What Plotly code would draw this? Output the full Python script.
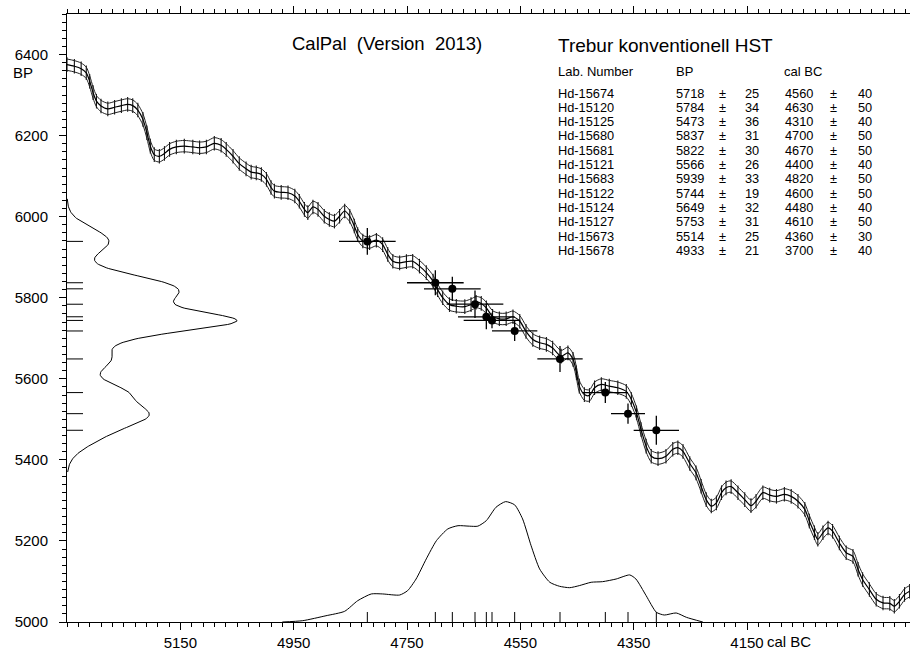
import numpy as np
import plotly.graph_objects as go

# ---------------- data ----------------
lab_ids = ["Hd-15674", "Hd-15120", "Hd-15125", "Hd-15680", "Hd-15681", "Hd-15121",
           "Hd-15683", "Hd-15122", "Hd-15124", "Hd-15127", "Hd-15673", "Hd-15678"]
bp_vals = [5718, 5784, 5473, 5837, 5822, 5566, 5939, 5744, 5649, 5753, 5514, 4933]
bp_sd = [25, 34, 36, 31, 30, 26, 33, 19, 32, 31, 25, 21]
cal_vals = [4560, 4630, 4310, 4700, 4670, 4400, 4820, 4600, 4480, 4610, 4360, 3700]
cal_sd = [40, 50, 40, 50, 50, 40, 50, 50, 40, 50, 30, 40]

# calibration curve
curve_cal = [5350, 5337, 5325, 5316, 5310, 5304, 5298, 5290, 5278, 5266, 5254, 5243, 5234, 5225,
             5216, 5209, 5203, 5196, 5187, 5178, 5169, 5157, 5143, 5128, 5116, 5104, 5090, 5078,
             5069, 5057, 5046, 5034, 5025, 5016, 5007, 4998, 4990, 4984, 4972, 4960, 4948, 4940,
             4931, 4925, 4916, 4907, 4896, 4887, 4878, 4869, 4860, 4851, 4843, 4837, 4828, 4816,
             4804, 4793, 4784, 4775, 4763, 4751, 4740, 4728, 4716, 4704, 4696, 4687, 4675, 4663,
             4648, 4637, 4628, 4619, 4610, 4599, 4587, 4575, 4563, 4551, 4540, 4528, 4516, 4504,
             4493, 4478, 4466, 4457, 4451, 4446, 4437, 4428, 4419, 4407, 4393, 4378, 4363, 4354,
             4345, 4337, 4328, 4319, 4307, 4293, 4281, 4272, 4263, 4251, 4240, 4231, 4222, 4213,
             4204, 4195, 4187, 4178, 4166, 4154, 4143, 4134, 4122, 4110, 4098, 4084, 4072, 4060,
             4048, 4040, 4031, 4025, 4016, 4007, 3999, 3987, 3975, 3963, 3954, 3946, 3934, 3922,
             3910, 3898, 3890, 3881, 3872, 3863]
curve_bp = [6375, 6371, 6365, 6355, 6334, 6306, 6285, 6273, 6266, 6270, 6274, 6277, 6274, 6263,
            6240, 6207, 6174, 6153, 6149, 6156, 6166, 6172, 6174, 6172, 6170, 6172, 6181, 6176,
            6166, 6149, 6131, 6118, 6110, 6108, 6104, 6092, 6072, 6063, 6060, 6059, 6051, 6038,
            6018, 6010, 6024, 6018, 6001, 5993, 5989, 6001, 6014, 6001, 5977, 5956, 5940, 5936,
            5942, 5931, 5907, 5890, 5886, 5889, 5890, 5878, 5862, 5841, 5820, 5800, 5783, 5779,
            5778, 5783, 5789, 5786, 5775, 5754, 5748, 5748, 5753, 5742, 5717, 5697, 5689, 5685,
            5676, 5656, 5664, 5648, 5615, 5582, 5561, 5559, 5578, 5586, 5582, 5578, 5569, 5549,
            5516, 5475, 5434, 5409, 5403, 5409, 5426, 5430, 5421, 5391, 5368, 5335, 5302, 5286,
            5294, 5319, 5331, 5334, 5319, 5302, 5287, 5298, 5319, 5313, 5310, 5315, 5310, 5298,
            5278, 5249, 5220, 5204, 5220, 5232, 5224, 5195, 5171, 5162, 5130, 5105, 5080, 5056,
            5047, 5046, 5039, 5051, 5068, 5076]
curve_sigma = 14
curve_bar = 18

# summed calibrated probability (relative)
cal_density_x = [4970, 4934, 4893, 4860, 4837, 4813, 4793, 4763, 4749, 4734, 4716, 4698, 4678,
                 4660, 4640, 4625, 4610, 4593, 4576, 4560, 4546, 4531, 4516, 4498, 4481, 4463,
                 4446, 4425, 4405, 4381, 4357, 4346, 4328, 4310, 4296, 4275, 4257, 4228]
cal_density_rel = [0.0, 0.011, 0.052, 0.089, 0.177, 0.233, 0.233, 0.224, 0.260, 0.357, 0.524,
                   0.676, 0.773, 0.800, 0.796, 0.796, 0.842, 0.953, 1.0, 0.973, 0.856, 0.634,
                   0.441, 0.330, 0.297, 0.285, 0.302, 0.330, 0.335, 0.357, 0.391, 0.357, 0.219,
                   0.081, 0.058, 0.075, 0.039, 0.0]

x_tick_vals = [5150, 4950, 4750, 4550, 4350, 4150]
y_tick_vals = [5000, 5200, 5400, 5600, 5800, 6000, 6200, 6400]

# ---------------- layout geometry ----------------
W, H = 910, 655
ML, MR, MT, MB = 67, 0, 14, 33
PW, PH = W - ML - MR, H - MT - MB
X0 = 5350
XSCALE = 850 / 1500.0           # px per year
X1 = X0 - PW / XSCALE
FONT = "Liberation Sans, Arial, sans-serif"
DENS_AMP = 300                  # density amplitude in axis units


def px(xp):
    return (xp - ML) / PW


def py(yp):
    return (MT + PH - yp) / PH


fig = go.Figure()

# BP summed probability (sum of normal distributions of the measurements)
bp_grid = np.arange(5370, 6046, 2)
dens = np.zeros_like(bp_grid, dtype=float)
for m, s in zip(bp_vals, bp_sd):
    dens += np.exp(-0.5 * ((bp_grid - m) / s) ** 2) / s
dens = dens / dens.max()
fig.add_trace(go.Scatter(x=X0 - DENS_AMP * dens, y=bp_grid, mode="lines",
                         line=dict(color="black", width=1), hoverinfo="skip"))

# calibrated summed probability along the bottom
fig.add_trace(go.Scatter(x=cal_density_x, y=[5000 + 297 * v for v in cal_density_rel],
                         mode="lines", line=dict(color="black", width=1, shape="spline", smoothing=0.6),
                         hoverinfo="skip"))

# calibration curve: hatch bars, envelope and centre line
fig.add_trace(go.Scatter(x=curve_cal, y=curve_bp, mode="markers",
                         marker=dict(size=1, color="rgba(0,0,0,0)"),
                         error_y=dict(type="constant", value=curve_bar, width=0,
                                      thickness=1.1, color="#111"),
                         hoverinfo="skip"))
for sgn in (1, -1):
    fig.add_trace(go.Scatter(x=curve_cal, y=[b + sgn * curve_sigma for b in curve_bp], mode="lines",
                             line=dict(color="#222", width=1, shape="spline", smoothing=0.8),
                             hoverinfo="skip"))
fig.add_trace(go.Scatter(x=curve_cal, y=curve_bp, mode="lines",
                         line=dict(color="black", width=1.2, shape="spline", smoothing=0.8),
                         hoverinfo="skip"))

# dated samples
fig.add_trace(go.Scatter(x=cal_vals, y=bp_vals, mode="markers",
                         marker=dict(size=8, color="black"),
                         error_x=dict(type="data", array=cal_sd, width=0, thickness=1.3, color="black"),
                         error_y=dict(type="data", array=bp_sd, width=0, thickness=1.3, color="black"),
                         hoverinfo="skip"))

shapes = []
# sample marks on BP axis
for b in bp_vals:
    if b >= 5000:
        shapes.append(dict(type="line", xref="x domain", yref="y", x0=0, x1=16 / PW, y0=b, y1=b,
                           line=dict(color="black", width=1)))
# sample marks on cal axis
for c in cal_vals:
    if c <= X0 and c >= X1:
        shapes.append(dict(type="line", xref="x", yref="y domain", x0=c, x1=c, y0=0, y1=10 / PH,
                           line=dict(color="black", width=1)))

ann = []


def text(x, y, t, size, anchor="left"):
    ann.append(dict(x=px(x), y=py(y), xref="paper", yref="paper", text=t, showarrow=False,
                    xanchor=anchor, yanchor="middle", borderpad=0,
                    font=dict(size=size, color="black", family=FONT)))


text(291, 44, "CalPal  (Version  2013)", 18.5)
text(557, 45, "Trebur konventionell HST", 19)
text(557, 71, "Lab. Number", 13)
text(675, 71, "BP", 13)
text(783, 71, "cal BC", 13)
ROW = 12.8
for i, lab in enumerate(lab_ids):
    yy = 93 + 14.3 * i
    text(557, yy, lab, ROW)
    text(675, yy, str(bp_vals[i]), ROW)
    text(722, yy, "±", ROW, "center")
    text(744, yy, str(bp_sd[i]), ROW)
    text(784, yy, str(cal_vals[i]), ROW)
    text(833, yy, "±", ROW, "center")
    text(857, yy, str(cal_sd[i]), ROW)
text(12, 73, "BP", 15)
ann.append(dict(x=4150, y=py(641), xref="x", yref="paper", text="cal BC", showarrow=False,
                xanchor="left", yanchor="middle", xshift=19, borderpad=0,
                font=dict(size=15, color="black", family=FONT)))

axis_common = dict(showgrid=False, zeroline=False, showline=True, linecolor="black", linewidth=1,
                   ticks="outside", ticklen=7, tickwidth=1, tickcolor="black",
                   tickfont=dict(size=15, color="black", family=FONT))

fig.update_layout(
    width=W, height=H, margin=dict(l=ML, r=MR, t=MT, b=MB),
    paper_bgcolor="white", plot_bgcolor="white", showlegend=False,
    shapes=shapes, annotations=ann,
    xaxis=dict(range=[X0, X1], tickmode="array", tickvals=x_tick_vals,
               ticktext=[str(v) for v in x_tick_vals], mirror="ticks",
               minor=dict(tick0=X0, dtick=20, ticklen=4, ticks="outside", tickcolor="black",
                          showgrid=False),
               **axis_common),
    yaxis=dict(range=[5000, 6500], tickmode="array", tickvals=y_tick_vals,
               ticktext=[str(v) for v in y_tick_vals], ticklabelstandoff=8,
               minor=dict(tick0=5000, dtick=20, ticklen=4, ticks="outside", tickcolor="black",
                          showgrid=False),
               **axis_common),
)

fig.write_html("out.html")
